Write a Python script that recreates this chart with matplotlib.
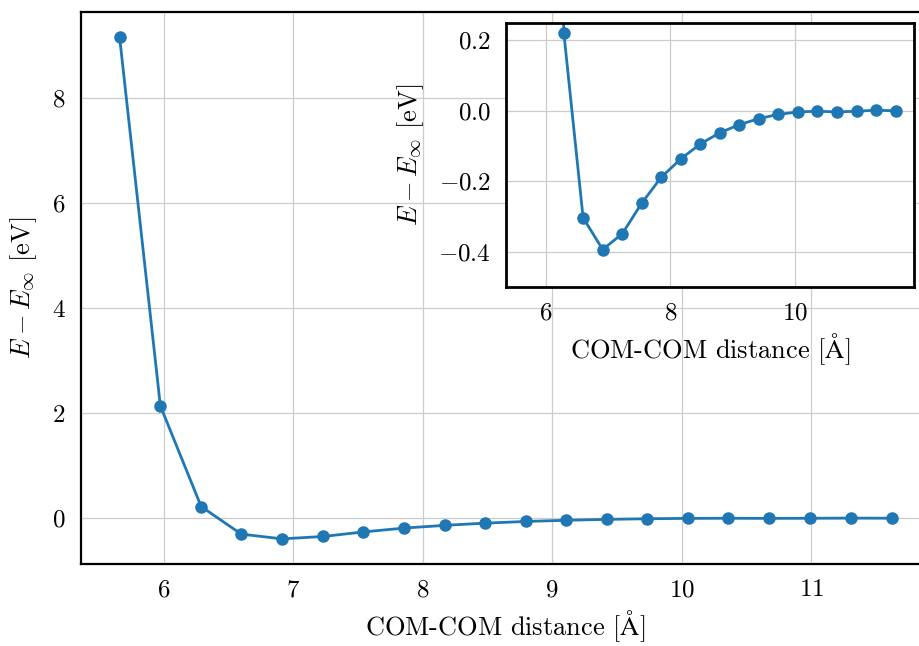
import numpy as np
import matplotlib
matplotlib.use("Agg")
import matplotlib.pyplot as plt

# COM-COM distance (Angstrom) and relative energy (eV)
distance = [5.66, 5.975, 6.29, 6.60, 6.915, 7.23, 7.54, 7.855, 8.17, 8.48,
            8.795, 9.11, 9.42, 9.735, 10.05, 10.36, 10.675, 10.99, 11.305, 11.62]
energy = [9.17, 2.14, 0.222, -0.303, -0.393, -0.348, -0.262, -0.188, -0.136, -0.094,
          -0.062, -0.039, -0.022, -0.010, -0.003, -0.001, -0.003, -0.001, 0.002, 0.0]

xlabel = r"COM-COM distance [$\mathrm{\AA}$]"
ylabel = r"$E - E_\infty$ [eV]"

plt.rcParams["font.family"] = ["cmr10", "DejaVu Serif"]
plt.rcParams["mathtext.fontset"] = "cm"
plt.rcParams["axes.formatter.use_mathtext"] = True
plt.rcParams["axes.unicode_minus"] = True

color = "#1f77b4"
grid_kw = dict(color="#cccccc", linewidth=0.9)


def style(ax, tick_size, spine_w):
    ax.grid(True, **grid_kw)
    ax.set_axisbelow(True)
    ax.tick_params(length=0, labelsize=tick_size, pad=11)
    for s in ax.spines.values():
        s.set_linewidth(spine_w)
        s.set_color("black")


fig = plt.figure(figsize=(9.2, 6.46), dpi=100)

# main axes (runs a bit past the right edge, like the reference)
ax = fig.add_axes([0.088, 0.127, 0.923, 0.855])
ax.plot(distance, energy, "-o", color=color, lw=2, ms=8)
ax.set_xlabel(xlabel, fontsize=19, labelpad=5)
ax.set_ylabel(ylabel, fontsize=19, labelpad=9)
ax.set_xticks([6, 7, 8, 9, 10, 11])
ax.set_yticks([0, 2, 4, 6, 8])
style(ax, 18, 1.6)

# inset zoomed on the well
axin = fig.add_axes([0.55, 0.5553, 0.4438, 0.4096])
axin.plot(distance, energy, "-o", color=color, lw=2, ms=8)
axin.set_ylim(-0.5, 0.25)
axin.set_xticks([6, 8, 10])
axin.set_yticks([-0.4, -0.2, 0.0, 0.2])
axin.set_xlabel(xlabel, fontsize=19, labelpad=5)
axin.set_ylabel(ylabel, fontsize=19, labelpad=9)
style(axin, 18, 2.0)

fig.savefig("out.png", dpi=100)
